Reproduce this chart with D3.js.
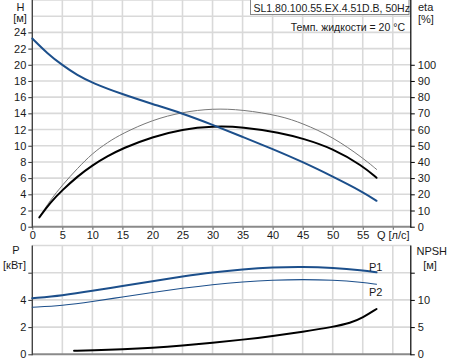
<!DOCTYPE html>
<html><head><meta charset="utf-8">
<script src="https://cdn.jsdelivr.net/npm/d3@7"></script>
<style>
html,body{margin:0;padding:0;background:#fff;}
svg{display:block;font-family:"Liberation Sans",Arial,sans-serif;}
</style></head>
<body><svg id="c" width="450" height="363"></svg>
<script>
// ---- data ----
const qTicks = [0,5,10,15,20,25,30,35,40,45,50,55];
const hTicks = [0,2,4,6,8,10,12,14,16,18,20,22,24];
const etaTicks = [0,10,20,30,40,50,60,70,80,90,100];
const pTicks = [0,2,4];
const npshTicks = [0,5,10];

const headQ = [0,2.5,5,7.5,10,15,20,25,30,35,40,45,50,55,57.3];
const headH = [23.25,21.4,19.95,18.7,17.75,16.35,15.15,14.0,12.6,11.1,9.6,8.0,6.2,4.3,3.2];

const etaQ = [1.17,3,5,7.5,10,12.5,15,20,25,30,35,41.3,45,50,55,57.3];
const etaPump = [5.75,15,22.6,31,38,43.5,48.4,55.5,60.2,62.1,61.7,58,54.5,48.4,37.5,30.2];
const etaHydr = [5.75,16.5,25.7,36,45.3,52,57.6,66,70.8,73,72.3,68.5,63.8,55.5,42.5,35.4];

const powQ = [0,5,10,15,20,25,30,35,40,45,50,55,57.3];
const p1 = [4.12,4.33,4.66,5.03,5.38,5.72,6.03,6.25,6.4,6.44,6.37,6.18,6.03];
const p2 = [3.46,3.58,3.87,4.22,4.55,4.86,5.13,5.33,5.46,5.51,5.46,5.29,5.15];

const npshQ = [6.95,10,15,20,25,30,35,40,45,50,53,55,57.3];
const npsh = [0.66,0.75,0.92,1.18,1.58,2.1,2.68,3.36,4.15,5.02,5.75,6.73,8.33];

// ---- layout ----
const svg = d3.select("#c");
const L = 32.3, R = 410.8;
const x = d3.scaleLinear().domain([0,63]).range([L,R]);
const yH = d3.scaleLinear().domain([0,28]).range([226.7,0]);
const yEta = d3.scaleLinear().domain([0,140]).range([226.7,0]);
const yP = d3.scaleLinear().domain([0,8]).range([354.3,245.5]);
const yN = d3.scaleLinear().domain([0,20]).range([354.3,245.5]);

const gridC = "#d9d9d9", txt = "#1a1a1a", blue = "#1c4f8b";
const gridQ = d3.range(5,61,5);

function grid(yScale, vals, top, bottom){
  const g = svg.append("g");
  g.selectAll(".v").data(gridQ).enter().append("line")
    .attr("x1",d=>x(d)).attr("x2",d=>x(d)).attr("y1",top).attr("y2",bottom)
    .attr("stroke",gridC).attr("stroke-width",1.6);
  g.selectAll(".h").data(vals).enter().append("line")
    .attr("x1",L).attr("x2",R).attr("y1",d=>yScale(d)).attr("y2",d=>yScale(d))
    .attr("stroke",gridC).attr("stroke-width",1.6);
}
grid(yH, d3.range(2,29,2), 0, 226.7);
grid(yP, [2,4,6,8], 245.5, 354.3);

function styleAxis(g, color){
  g.select(".domain").remove();
  g.selectAll("line").attr("stroke",color);
  g.selectAll("text").attr("fill",txt).style("font-size","11px").style("font-family","'Liberation Sans',Arial,sans-serif");
}

// top left axis
const ax1 = svg.append("g").attr("transform",`translate(${L},0)`)
  .call(d3.axisLeft(yH).tickValues(hTicks).tickSize(4).tickPadding(2));
styleAxis(ax1,"#333");
// top right axis
const ax2 = svg.append("g").attr("transform",`translate(${R},0)`)
  .call(d3.axisRight(yEta).tickValues(etaTicks).tickSize(4).tickPadding(3));
styleAxis(ax2,"#000");
// x axis labels
const ax3 = svg.append("g").attr("transform",`translate(0,226.7)`)
  .call(d3.axisBottom(x).tickValues(qTicks.concat([60])).tickSize(3).tickPadding(2)
    .tickFormat(d=> d===60 ? "Q [л/с]" : d));
styleAxis(ax3,"#555");

// bottom panel axes
const ax4 = svg.append("g").attr("transform",`translate(${L},0)`)
  .call(d3.axisLeft(yP).tickValues([0,2,4,6]).tickSize(4).tickPadding(2)
    .tickFormat(d=> pTicks.includes(d) ? d : ""));
styleAxis(ax4,"#333");
const ax5 = svg.append("g").attr("transform",`translate(${R},0)`)
  .call(d3.axisRight(yN).tickValues([0,5,10,15]).tickSize(4).tickPadding(3)
    .tickFormat(d=> npshTicks.includes(d) ? d : ""));
styleAxis(ax5,"#000");

// frame lines
function ln(x1,y1,x2,y2,c,w){svg.append("line").attr("x1",x1).attr("y1",y1).attr("x2",x2).attr("y2",y2).attr("stroke",c).attr("stroke-width",w);}
ln(L,226.7,R,226.7,"#8a8a8a",2);
ln(L,354.3,R,354.3,"#8a8a8a",2);
ln(L,0,L,227.7,"#444",1.4);
ln(L,245.5,L,355.3,"#444",1.4);
ln(R,0,R,227.7,"#000",1.2);
ln(R,245.5,R,355.3,"#000",1.2);

// curves
function curve(xs, ys, yScale, color, w){
  const line = d3.line().x(d=>x(d[0])).y(d=>yScale(d[1])).curve(d3.curveBasis);
  svg.append("path").datum(xs.map((q,i)=>[q,ys[i]])).attr("d",line)
    .attr("fill","none").attr("stroke",color).attr("stroke-width",w).attr("stroke-linecap","round");
}
curve(etaQ, etaHydr, yEta, "#777", 1);
curve(etaQ, etaPump, yEta, "#000", 2);
curve(headQ, headH, yH, blue, 2);
curve(powQ, p2, yP, blue, 1.1);
curve(powQ, p1, yP, blue, 2);
curve(npshQ, npsh, yN, "#000", 2);

// texts
function t(s,xx,yy,anchor,size){svg.append("text").attr("x",xx).attr("y",yy).attr("text-anchor",anchor||"start")
  .attr("fill",txt).style("font-size",(size||11)+"px").text(s);}
t("H",20.5,11,"middle");
t("[м]",20,22,"middle");
t("eta",418,11,"start");
t("[%]",418,23,"start");
t("P",16,254,"middle");
t("[кВт]",14.5,269,"middle");
t("NPSH",416.5,255,"start");
t("[м]",430,269,"middle");
t("P1",369,271,"start");
t("P2",369,296,"start");

svg.append("rect").attr("x",250.5).attr("y",-1).attr("width",158.5).attr("height",15.5)
  .attr("fill","#fff").attr("stroke","#888").attr("stroke-width",1);
t("SL1.80.100.55.EX.4.51D.B, 50Hz",253.5,11.5,"start",10.5);
t("Темп. жидкости = 20 °C",405,31,"end",10.5);
</script></body></html>
